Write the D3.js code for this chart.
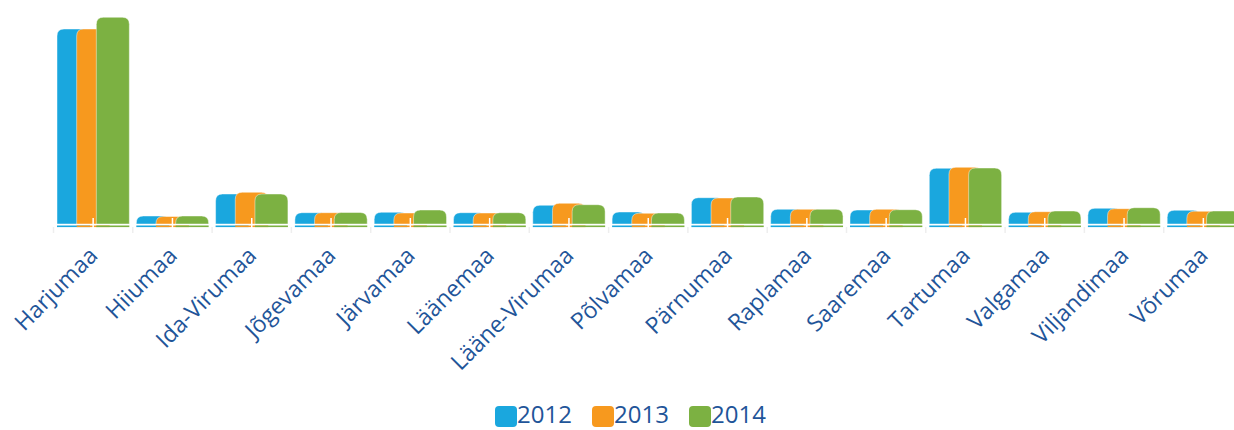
<!DOCTYPE html>
<html>
<head>
<meta charset="utf-8">
<script src="https://cdn.jsdelivr.net/npm/d3@7"></script>
<style>
  body { margin: 0; background: #fff; }
  svg { display: block; }
  .label { font-family: "Open Sans", "Noto Sans", sans-serif; fill: #1f5599; }
</style>
</head>
<body>
<div id="chart"></div>
<script>
// Counties and yearly values (arbitrary units)
const counties = ["Harjumaa", "Hiiumaa", "Ida-Virumaa", "Jõgevamaa", "Järvamaa", "Läänemaa",
    "Lääne-Virumaa", "Põlvamaa", "Pärnumaa", "Raplamaa", "Saaremaa", "Tartumaa",
    "Valgamaa", "Viljandimaa", "Võrumaa"];
const years = ["2012", "2013", "2014"];
const values2012 = [195, 8, 30, 11.3, 11.7, 11.3, 18.7, 12, 26.3, 14.7, 14, 55.7, 11.7, 15.7, 13.7];
const values2013 = [195, 7.5, 31.7, 11.3, 11, 11, 20.7, 10.7, 26, 14.7, 14.7, 56.7, 12.3, 15.3, 12.7];
const values2014 = [206.7, 8, 30, 11.5, 14, 11.3, 19.3, 11, 27, 14.7, 14.3, 56, 13, 16.3, 13];
const colors = ["#1aa7de", "#f7991e", "#7cb142"];

const width = 1234, height = 430;
const baseY = 224;

const svg = d3.select("#chart").append("svg")
    .attr("width", width)
    .attr("height", height);

const x = d3.scaleBand()
    .domain(counties)
    .range([53.5, 53.5 + 15 * 79.3]);

const xs = d3.scaleBand()
    .domain(years)
    .range([3.5, 62.5]);
const barW = 33;

const y = d3.scaleLinear()
    .domain([0, 200])
    .range([baseY, baseY - 200]);

const series = [values2012, values2013, values2014];

function topRounded(x0, y0, w, h, r) {
    r = Math.min(r, h, w / 2);
    return "M" + x0 + "," + (y0 + h) +
        "V" + (y0 + r) +
        "Q" + x0 + "," + y0 + " " + (x0 + r) + "," + y0 +
        "H" + (x0 + w - r) +
        "Q" + (x0 + w) + "," + y0 + " " + (x0 + w) + "," + (y0 + r) +
        "V" + (y0 + h) + "Z";
}

// faint separators between groups
svg.append("g").selectAll("line")
    .data(counties)
    .enter().append("line")
    .attr("x1", d => x(d)).attr("x2", d => x(d))
    .attr("y1", baseY + 3).attr("y2", baseY + 9)
    .attr("stroke", "#eeeeee")
    .attr("stroke-width", 1.5);

const groups = svg.append("g").selectAll("g")
    .data(counties)
    .enter().append("g")
    .attr("transform", d => "translate(" + x(d) + ",0)");

groups.each(function(c, i) {
    const g = d3.select(this);
    years.forEach((yr, k) => {
        const v = series[k][i];
        const x0 = xs(yr);
        g.append("path")
            .attr("d", topRounded(x0, y(v), barW, baseY - y(v), 7))
            .attr("fill", colors[k])
            .attr("stroke", "rgba(255,255,255,0.45)")
            .attr("stroke-width", 1);
        g.append("rect")
            .attr("x", x0)
            .attr("y", baseY + 1.5)
            .attr("width", barW)
            .attr("height", 1.6)
            .attr("fill", colors[k]);
    });
    // white tick at the group centre
    g.append("line")
        .attr("x1", x.bandwidth() / 2).attr("x2", x.bandwidth() / 2)
        .attr("y1", baseY - 6).attr("y2", baseY + 4)
        .attr("stroke", "#fff")
        .attr("stroke-width", 1.5);
});

// rotated county labels
svg.append("g").selectAll("text")
    .data(counties)
    .enter().append("text")
    .attr("class", "label")
    .attr("text-anchor", "end")
    .attr("font-size", 23)
    .attr("transform", d => "translate(" + (x(d) + x.bandwidth() / 2 + 6) + ",257) rotate(-45)")
    .text(d => d);

// legend
const legend = svg.append("g").selectAll("g")
    .data(years)
    .enter().append("g")
    .attr("transform", (d, i) => "translate(" + (495 + i * 97) + ",0)");

legend.append("rect")
    .attr("x", 0).attr("y", 406)
    .attr("width", 22).attr("height", 21)
    .attr("rx", 4)
    .attr("fill", (d, i) => colors[i]);

legend.append("text")
    .attr("class", "label")
    .attr("x", 22).attr("y", 423)
    .attr("font-size", 24)
    .text(d => d);
</script>
</body>
</html>
